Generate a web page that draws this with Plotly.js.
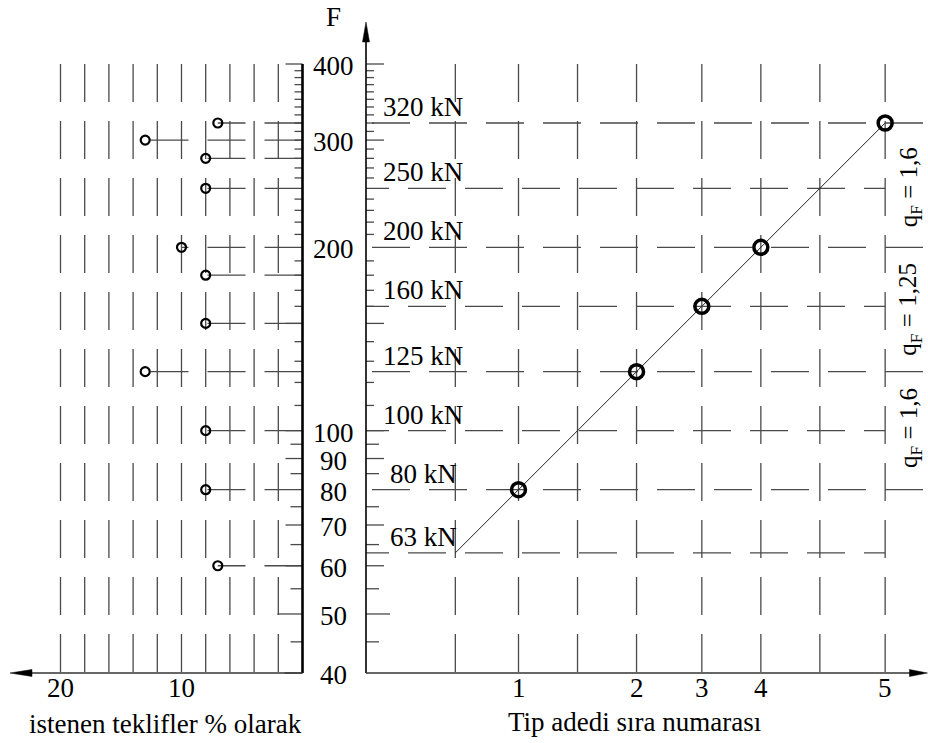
<!DOCTYPE html>
<html><head><meta charset="utf-8">
<script src="https://cdn.plot.ly/plotly-3.0.1.min.js"></script>
<style>html,body{margin:0;padding:0;background:#fff}</style>
</head><body><div id="chart" style="width:928px;height:743px"></div>
<script>
// ---------------- data ----------------
const leftPct = [7, 13, 8, 8, 10, 8, 8, 13, 8, 8, 7];          // istenen teklifler %
const leftF   = [320, 300, 280, 250, 200, 180, 150, 125, 100, 80, 60];
const typeNo  = ['1', '2', '3', '4', '5'];                         // Tip adedi sıra numarası
const typeF   = [80, 125, 160, 200, 320];
const lineF   = [63, 80, 125, 160, 200, 320];
const kNLevels = [320, 250, 200, 160, 125, 100, 80, 63];
const yTickLabels = [400, 300, 200, 100, 90, 80, 70, 60, 50, 40];
const pctGrid = [2, 4, 6, 8, 10, 12, 14, 16, 18, 20];
const pctTickVals = [20, 10];
const qLabels = ['q<sub>F</sub> = 1,6', 'q<sub>F</sub> = 1,25', 'q<sub>F</sub> = 1,6'];
const qLabelF = [251, 158, 101];
const ticks10 = [110,120,130,140,160,170,180,190,210,220,230,240,260,270,280,290,310,320,330,340,350,360,370,380,390];
const ticks5  = [45, 55, 65, 75, 85, 95];
const ticksMain = [50, 60, 70, 90, 100, 150, 400];

// ---------------- geometry ----------------
const W = 928, H = 743, PXD = 609;
const fx = px => px / W;
const fy = py => 1 - py / H;
const L10 = Math.log10;

const yPx40 = 673, yDomPx = [676, 60];
const yRange = [L10(40) - (yDomPx[0] - yPx40) / PXD, L10(40) + (yPx40 - yDomPx[1]) / PXD];

const lx0 = 302.5, pxPerPct = 12.1, lDomPx = [10, 306];
const lRange = [(lx0 - lDomPx[0]) / pxPerPct, (lx0 - lDomPx[1]) / pxPerPct];

const rAnchorPx = 518.5, rDomPx = [366, 928];
const rRange = [L10(typeF[0]) - (rAnchorPx - rDomPx[0]) / PXD, L10(typeF[0]) + (rDomPx[1] - rAnchorPx) / PXD];
const rPxToF = px => Math.pow(10, rRange[0] + (px - rDomPx[0]) / PXD);

const DASH = '38px,19px';
const GRID = '#4a4a4a';
const FONT = 'Liberation Serif, Times New Roman, serif';
const FS = 27;

// ---------------- traces ----------------
const lx = [], ly = [];
leftPct.forEach((p, i) => { lx.push(0, p, null); ly.push(leftF[i], leftF[i], null); });

const traces = [
  {x: lx, y: ly, xaxis: 'x', yaxis: 'y', mode: 'lines', connectgaps: false,
   line: {color: GRID, width: 1.3, dash: DASH}, hoverinfo: 'skip'},
  {x: leftPct, y: leftF, xaxis: 'x', yaxis: 'y', mode: 'markers',
   marker: {symbol: 'circle-open', size: 9, color: '#000', line: {width: 2.2, color: '#000'}}},
  {x: lineF, y: lineF, xaxis: 'x2', yaxis: 'y', mode: 'lines',
   line: {color: '#222', width: 1}},
  {x: typeF, y: typeF, xaxis: 'x2', yaxis: 'y', mode: 'markers',
   marker: {symbol: 'circle-open', size: 14, color: '#000', line: {width: 3.5, color: '#000'}}}
];

// ---------------- shapes ----------------
const shapes = [];
const gridLine = {color: GRID, width: 1.3, dash: DASH};
pctGrid.forEach(p => shapes.push({type: 'line', xref: 'x', yref: 'y', x0: p, x1: p, y0: 400, y1: 40, line: gridLine, layer: 'below'}));
kNLevels.forEach(f => shapes.push({type: 'line', xref: 'x2', yref: 'y', x0: f, x1: f, y0: 400, y1: 40, line: gridLine, layer: 'below'}));
kNLevels.forEach((f, i) => {
  const even = i % 2 === 0;
  shapes.push({type: 'line', xref: 'x2', yref: 'y',
    x0: rPxToF(rDomPx[0] - (even ? 51 : 15)), x1: even ? Math.pow(10, rRange[1]) : typeF[typeF.length - 1],
    y0: f, y1: f, line: gridLine, layer: 'below'});
});
// axis ticks
function tick(anchorPx, v, len, dir) {
  shapes.push({type: 'line', xref: 'paper', xsizemode: 'pixel', xanchor: fx(anchorPx),
    x0: 0, x1: dir * len, yref: 'y', y0: v, y1: v, line: {color: GRID, width: 1.3}});
}
ticks10.forEach(v => { tick(lx0, v, 8, -1); tick(rDomPx[0], v, 8, 1); });
ticks5.forEach(v => { tick(lx0, v, 12, -1); tick(rDomPx[0], v, 13, 1); });
ticksMain.forEach(v => { tick(lx0, v, v === 50 ? 25 : 17, -1); tick(rDomPx[0], v, v === 50 ? 24 : 18, 1); });
tick(lx0, 300, 8, -1); tick(rDomPx[0], 300, 18, 1);
tick(lx0, 40, 18, -1);
// axis lines
shapes.push({type: 'line', xref: 'paper', yref: 'y', x0: fx(lx0), x1: fx(lx0), y0: 40, y1: 400, line: {color: '#000', width: 2.6}});
shapes.push({type: 'line', xref: 'paper', yref: 'y', x0: fx(30), x1: fx(lx0), y0: 40, y1: 40, line: {color: '#333', width: 1.4}});
shapes.push({type: 'line', xref: 'paper', yref: 'paper', x0: fx(rDomPx[0]), x1: fx(rDomPx[0]), y0: fy(673), y1: fy(40), line: {color: '#000', width: 1.6}});
shapes.push({type: 'line', xref: 'paper', yref: 'y', x0: fx(rDomPx[0]), x1: fx(912), y0: 40, y1: 40, line: {color: '#333', width: 1.4}});
// arrowheads
function head(xp, yp, path) {
  shapes.push({type: 'path', xref: 'paper', yref: 'paper', xsizemode: 'pixel', ysizemode: 'pixel',
    xanchor: fx(xp), yanchor: fy(yp), path: path, fillcolor: '#000', line: {color: '#000', width: 0.5}});
}
head(rDomPx[0], 22, 'M0,0 L-3.5,-20 L3.5,-20 Z');
head(10, 673, 'M0,0 L22,3.5 L22,-3.5 Z');
head(927.5, 673, 'M0,0 L-18,3.5 L-18,-3.5 Z');

// ---------------- annotations ----------------
const annotations = [];
const txt = (size) => ({family: FONT, size: size, color: '#000'});
const ann = (o) => annotations.push(Object.assign({showarrow: false, xanchor: 'center', yanchor: 'middle', font: txt(FS)}, o));
yTickLabels.forEach(v => ann({xref: 'paper', yref: 'y', x: fx(333), y: L10(v), yshift: -2, text: String(v)}));
kNLevels.forEach(v => ann({xref: 'paper', yref: 'y', x: fx(423), y: L10(v), yshift: 16, text: v + ' kN'}));
qLabels.forEach((t, i) => ann({xref: 'paper', yref: 'y', x: fx(910), y: L10(qLabelF[i]), text: t, textangle: -90, font: txt(25)}));
pctTickVals.forEach(v => ann({xref: 'x', yref: 'paper', x: v, y: fy(688), text: String(v)}));
typeF.forEach((v, i) => ann({xref: 'x2', yref: 'paper', x: L10(v), y: fy(688), text: typeNo[i]}));
ann({xref: 'paper', yref: 'paper', x: fx(333), y: fy(17), text: 'F'});
ann({xref: 'paper', yref: 'paper', x: fx(165), y: fy(724), text: 'istenen teklifler % olarak'});
ann({xref: 'paper', yref: 'paper', x: fx(634), y: fy(722), text: 'Tip adedi sıra numarası'});

const hidden = {showgrid: false, zeroline: false, showline: false, fixedrange: true, showticklabels: false, ticks: ''};
const layout = {
  width: W, height: H, margin: {l: 0, r: 0, t: 0, b: 0},
  paper_bgcolor: '#fff', plot_bgcolor: 'rgba(0,0,0,0)', showlegend: false,
  font: {family: FONT, size: FS, color: '#000'},
  xaxis: Object.assign({}, hidden, {domain: [fx(lDomPx[0]), fx(lDomPx[1])], range: lRange, anchor: 'y'}),
  xaxis2: Object.assign({}, hidden, {type: 'log', domain: [fx(rDomPx[0]), fx(rDomPx[1])], range: rRange, anchor: 'y'}),
  yaxis: Object.assign({}, hidden, {type: 'log', domain: [fy(yDomPx[0]), fy(yDomPx[1])], range: yRange}),
  shapes: shapes, annotations: annotations
};
Plotly.newPlot('chart', traces, layout, {displayModeBar: false, staticPlot: true});
</script></body></html>
